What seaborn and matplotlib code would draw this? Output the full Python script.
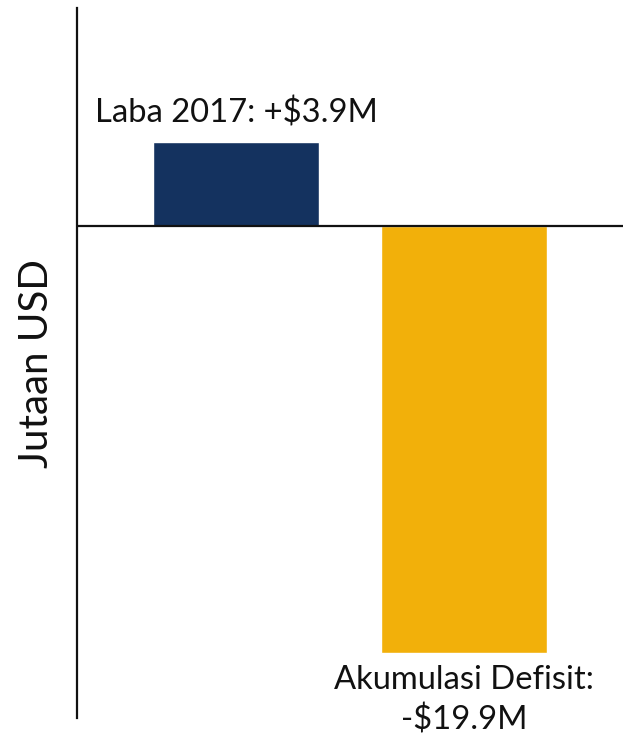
import matplotlib
matplotlib.use("Agg")
import matplotlib.pyplot as plt
import seaborn as sns
import pandas as pd

categories = ["Laba 2017", "Akumulasi Defisit"]
values = [3.9, -19.9]
labels = ["Laba 2017: +$3.9M", "Akumulasi Defisit:\n-$19.9M"]
colors = ["#14325f", "#f2b00a"]

sns.set_theme(style="white")
plt.rcParams['font.family'] = ['Lato', 'DejaVu Sans']

df = pd.DataFrame({"cat": categories, "val": values})

fig = plt.figure(figsize=(6.23, 7.44), dpi=100)
ax = fig.add_axes([0.1236, 0.035, 0.8764, 0.954])
sns.barplot(data=df, x="cat", y="val", hue="cat", palette=colors, width=0.73,
            saturation=1, legend=False, ax=ax)
ax.set_xlim(-0.7, 1.7)
ax.set_ylim(-22.93, 10.14)
ax.axhline(0, color="#111111", lw=1.6, zorder=3)
for s in ["top", "right", "bottom"]:
    ax.spines[s].set_visible(False)
ax.spines["left"].set_color("#111111")
ax.spines["left"].set_linewidth(1.6)
ax.set_xticks([])
ax.set_yticks([])
ax.set_xlabel("")
ax.set_ylabel("Jutaan USD", fontsize=29, color="#111111", labelpad=16)

# labels
ax.annotate(labels[0], xy=(0, values[0]), xytext=(0, 10), textcoords="offset points",
            ha="center", va="bottom", fontsize=23.6, color="#111111")
ax.annotate(labels[1], xy=(1, values[1]), xytext=(0, -9), textcoords="offset points",
            ha="center", va="top", fontsize=23.6, color="#111111", linespacing=1.35,
            annotation_clip=False)

fig.savefig("out.png", dpi=100)
